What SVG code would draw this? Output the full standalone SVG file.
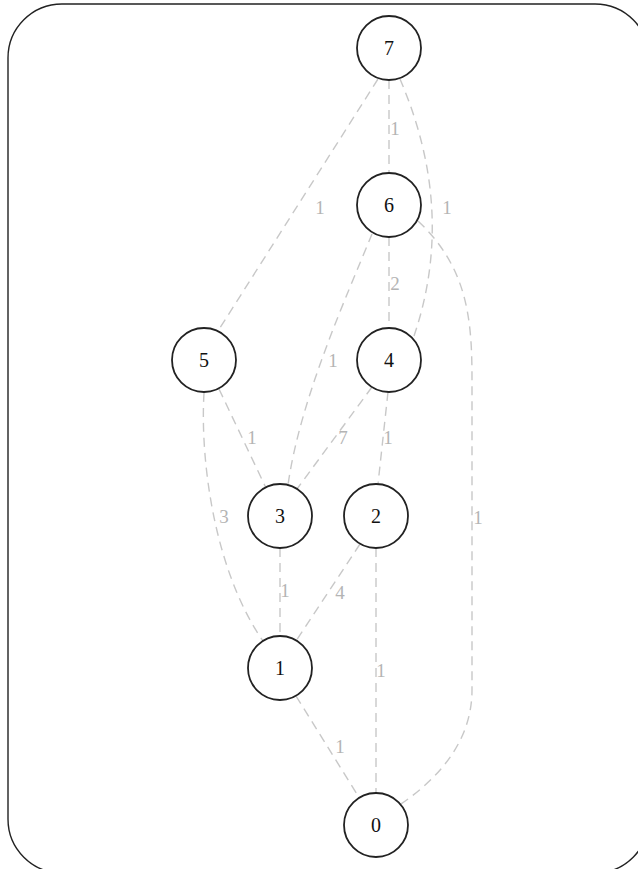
<svg xmlns="http://www.w3.org/2000/svg" width="638" height="869" viewBox="0 0 638 869">
  <style>
    .frame { fill: none; stroke: #222; stroke-width: 1.4; }
    .node circle { fill: #fff; stroke: #222; stroke-width: 1.8; }
    .node text { font-family: "Liberation Serif", serif; font-size: 20px; fill: #111; text-anchor: middle; dominant-baseline: central; }
    .edge { fill: none; stroke: #c8c8c8; stroke-width: 1.4; stroke-dasharray: 9 6; }
    .w { font-family: "Liberation Serif", serif; font-size: 19px; fill: #b4b4b4; text-anchor: middle; dominant-baseline: central; }
  </style>
  <rect width="638" height="869" fill="#fff"/>
  <rect class="frame" x="8" y="4" width="641" height="869" rx="54" ry="54"/>

  <g id="edges">
    <path class="edge" d="M389 80 L389 173"/>
    <path class="edge" d="M400 79 C426 140 450 230 414 336"/>
    <path class="edge" d="M378 79 L218 331"/>
    <path class="edge" d="M389 237 L389 328"/>
    <path class="edge" d="M372 234 C345 300 300 400 288 485"/>
    <path class="edge" d="M418 221 C468 268 472 320 472 380 L472 690 C472 740 440 778 398 806"/>
    <path class="edge" d="M219 389 L266 488"/>
    <path class="edge" d="M204 393 C200 460 214 570 263 641"/>
    <path class="edge" d="M372 387 L297 489"/>
    <path class="edge" d="M388 392 L378 484"/>
    <path class="edge" d="M280 548 L280 636"/>
    <path class="edge" d="M360 544 L296 641"/>
    <path class="edge" d="M376 548 L376 793"/>
    <path class="edge" d="M296 696 L360 799"/>

    <text class="w" x="395" y="128">1</text>
    <text class="w" x="447" y="207">1</text>
    <text class="w" x="320" y="207">1</text>
    <text class="w" x="395" y="283">2</text>
    <text class="w" x="333" y="360">1</text>
    <text class="w" x="478" y="517">1</text>
    <text class="w" x="252" y="437">1</text>
    <text class="w" x="224" y="516">3</text>
    <text class="w" x="343" y="437">7</text>
    <text class="w" x="388" y="437">1</text>
    <text class="w" x="285" y="590">1</text>
    <text class="w" x="340" y="592">4</text>
    <text class="w" x="381" y="670">1</text>
    <text class="w" x="340" y="746">1</text>
  </g>

  <g id="n7" class="node"><circle cx="389" cy="48" r="32"/><text x="389" y="48">7</text></g>
  <g id="n6" class="node"><circle cx="389" cy="205" r="32"/><text x="389" y="205">6</text></g>
  <g id="n5" class="node"><circle cx="204" cy="360" r="32"/><text x="204" y="360">5</text></g>
  <g id="n4" class="node"><circle cx="389" cy="360" r="32"/><text x="389" y="360">4</text></g>
  <g id="n3" class="node"><circle cx="280" cy="516" r="32"/><text x="280" y="516">3</text></g>
  <g id="n2" class="node"><circle cx="376" cy="516" r="32"/><text x="376" y="516">2</text></g>
  <g id="n1" class="node"><circle cx="280" cy="668" r="32"/><text x="280" y="668">1</text></g>
  <g id="n0" class="node"><circle cx="376" cy="825" r="32"/><text x="376" y="825">0</text></g>
</svg>
